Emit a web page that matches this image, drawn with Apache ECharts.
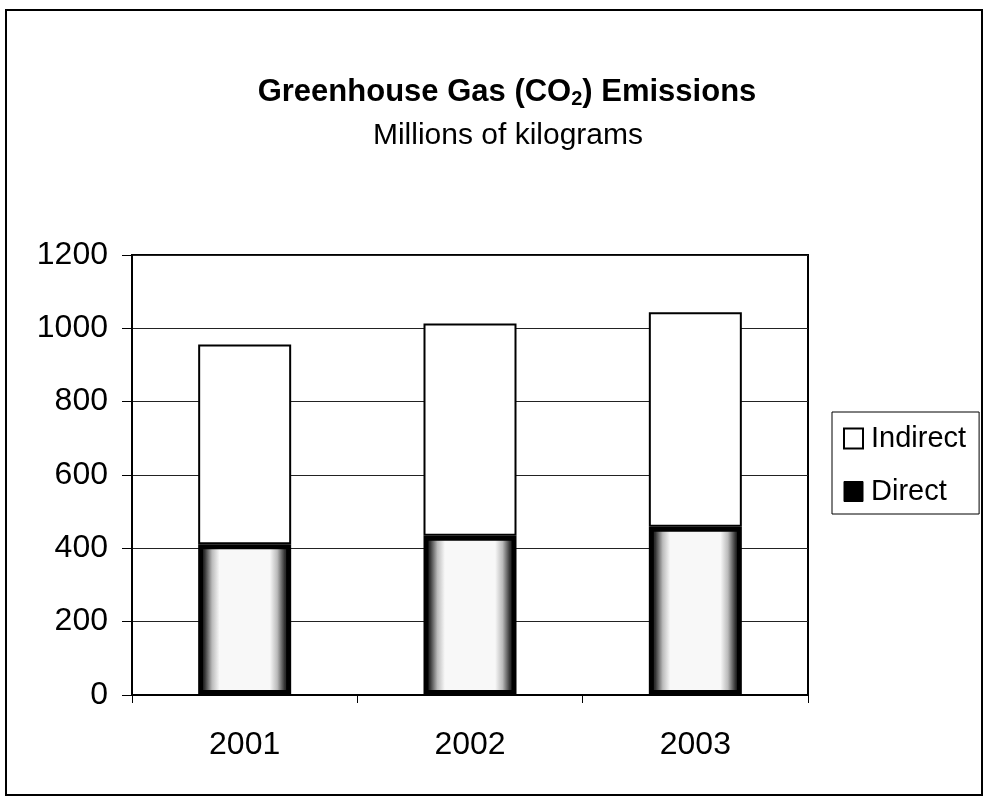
<!DOCTYPE html>
<html>
<head>
<meta charset="utf-8">
<script src="https://cdn.jsdelivr.net/npm/echarts@6/dist/echarts.min.js"></script>
<style>
  html, body { margin: 0; padding: 0; background: #fff; }
  #chart { width: 984px; height: 798px; }
</style>
</head>
<body>
<div id="chart"></div>
<script>
// values (millions of kg)
const years = ["2001", "2002", "2003"];
const direct = [411, 434, 459];
const indirect = [545, 579, 585];
const yTicks = [0, 200, 400, 600, 800, 1000, 1200];

const chart = echarts.init(document.getElementById("chart"));
const font = "Liberation Sans, Arial, sans-serif";

// dark speckled edges, white middle
const directFill = {
  type: "linear",
  x: 0, y: 0, x2: 1, y2: 0,
  colorStops: [
    { offset: 0, color: "#000" },
    { offset: 0.07, color: "#333" },
    { offset: 0.15, color: "#bbb" },
    { offset: 0.23, color: "#f8f8f8" },
    { offset: 0.77, color: "#f8f8f8" },
    { offset: 0.85, color: "#bbb" },
    { offset: 0.93, color: "#333" },
    { offset: 1, color: "#000" },
  ],
};

const option = {
  backgroundColor: "#fff",
  textStyle: { fontFamily: font, color: "#000" },
  graphic: [
    {
      type: "rect",
      shape: { x: 6, y: 10, width: 976, height: 785 },
      style: { fill: "none", stroke: "#000", lineWidth: 2 },
      silent: true,
    },
  ],
  title: [
    {
      text: "Greenhouse Gas (CO{sub|2}) Emissions",
      left: 502,
      textAlign: "center",
      top: 70,
      textStyle: {
        fontFamily: font,
        fontSize: 31,
        fontWeight: "bold",
        color: "#000",
        rich: {
          sub: {
            fontFamily: font,
            fontSize: 20,
            fontWeight: "bold",
            color: "#000",
            padding: [14, 0, 0, 0],
          },
        },
      },
    },
    {
      text: "Millions of kilograms",
      left: 503,
      textAlign: "center",
      top: 116,
      textStyle: { fontFamily: font, fontSize: 30, fontWeight: "normal", color: "#000" },
    },
  ],
  legend: {
    orient: "vertical",
    left: 832,
    top: 412,
    padding: [12, 13, 8, 11],
    itemGap: 24,
    itemWidth: 19,
    itemHeight: 20,
    borderColor: "#000",
    borderWidth: 1,
    textStyle: { fontFamily: font, fontSize: 29, color: "#000", padding: [0, 0, 0, 3] },
    data: [
      { name: "Indirect", icon: "rect", itemStyle: { color: "#fff", borderColor: "#000", borderWidth: 2 } },
      { name: "Direct", icon: "rect", itemStyle: { color: "#000", borderColor: "#000", borderWidth: 1 } },
    ],
  },
  grid: {
    left: 132,
    right: 176,
    top: 255,
    bottom: 103,
    show: true,
    borderColor: "#000",
    borderWidth: 2,
    containLabel: false,
  },
  xAxis: {
    type: "category",
    data: years,
    axisLine: { lineStyle: { color: "#000", width: 2 } },
    axisTick: { show: true, length: 8, lineStyle: { color: "#000" } },
    axisLabel: { fontFamily: font, fontSize: 32, color: "#000", margin: 34 },
  },
  yAxis: {
    type: "value",
    min: yTicks[0],
    max: yTicks[yTicks.length - 1],
    interval: yTicks[1] - yTicks[0],
    axisLine: { show: true, lineStyle: { color: "#000", width: 2 } },
    axisTick: { show: true, length: 10, lineStyle: { color: "#000" } },
    axisLabel: {
      fontFamily: font,
      fontSize: 32,
      color: "#000",
      margin: 24,
      formatter: (v) => String(v),
    },
    splitLine: { lineStyle: { color: "#222", width: 1 } },
  },
  series: [
    {
      name: "Direct",
      type: "bar",
      stack: "total",
      barWidth: 93,
      data: direct,
      itemStyle: { color: directFill, borderColor: "#000", borderWidth: 5 },
    },
    {
      name: "Indirect",
      type: "bar",
      stack: "total",
      barWidth: 93,
      data: indirect,
      itemStyle: { color: "#fff", borderColor: "#000", borderWidth: 2 },
    },
  ],
};

chart.setOption(option);
</script>
</body>
</html>
